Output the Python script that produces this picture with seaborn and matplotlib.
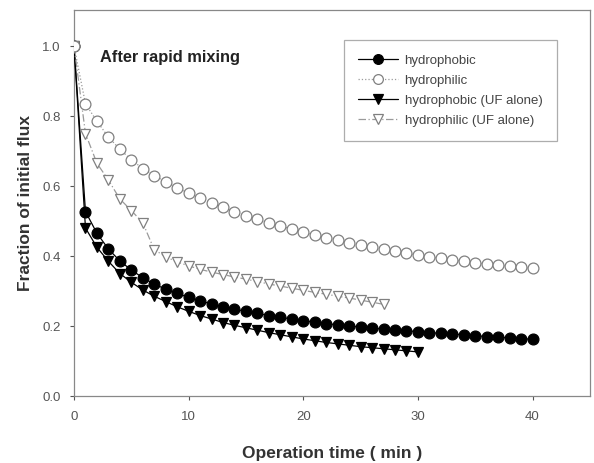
import numpy as np
import pandas as pd
import matplotlib
matplotlib.use("Agg")
import matplotlib.pyplot as plt
import seaborn as sns

sns.set_style("ticks")
plt.rcParams['font.family'] = ['Liberation Sans', 'DejaVu Sans']

t_hydrophobic = list(range(0, 41))
hydrophobic = [1.0, 0.527, 0.465, 0.42, 0.386, 0.36, 0.338, 0.32, 0.305, 0.293, 0.282,
               0.272, 0.263, 0.255, 0.248, 0.242, 0.236, 0.23, 0.225, 0.22, 0.215,
               0.211, 0.207, 0.203, 0.2, 0.197, 0.194, 0.191, 0.188, 0.186, 0.184,
               0.181, 0.179, 0.177, 0.175, 0.172, 0.17, 0.168, 0.166, 0.164, 0.162]

t_hydrophilic = list(range(0, 41))
hydrophilic = [1.0, 0.835, 0.785, 0.74, 0.705, 0.675, 0.65, 0.63, 0.612, 0.595, 0.58,
               0.565, 0.552, 0.54, 0.527, 0.515, 0.505, 0.495, 0.486, 0.477, 0.468,
               0.46, 0.452, 0.445, 0.438, 0.432, 0.426, 0.42, 0.414, 0.408, 0.403,
               0.398, 0.393, 0.389, 0.385, 0.381, 0.377, 0.374, 0.371, 0.368, 0.365]

t_hydrophobic_uf = list(range(0, 31))
hydrophobic_uf = [1.0, 0.48, 0.425, 0.385, 0.35, 0.325, 0.303, 0.285, 0.27, 0.255, 0.242,
                  0.23, 0.22, 0.21, 0.202, 0.195, 0.188, 0.181, 0.175, 0.169, 0.163,
                  0.158, 0.153, 0.149, 0.145, 0.141, 0.138, 0.135, 0.132, 0.129, 0.126]

t_hydrophilic_uf = list(range(0, 28))
hydrophilic_uf = [1.0, 0.75, 0.665, 0.617, 0.563, 0.53, 0.495, 0.418, 0.398, 0.383, 0.372,
                  0.362, 0.354, 0.347, 0.34, 0.334, 0.327, 0.32, 0.314, 0.308, 0.302,
                  0.296, 0.291, 0.285, 0.28, 0.274, 0.268, 0.262]

labels = ["hydrophobic", "hydrophilic", "hydrophobic (UF alone)", "hydrophilic (UF alone)"]
x_ticks = [0, 10, 20, 30, 40]
y_ticks = [0.0, 0.2, 0.4, 0.6, 0.8, 1.0]

series = [
    (t_hydrophobic, hydrophobic, dict(color="black", linestyle="-", marker="o", mfc="black", mec="black", z=3)),
    (t_hydrophilic, hydrophilic, dict(color="#9a9a9a", linestyle=":", marker="o", mfc="white", mec="#808080", z=6)),
    (t_hydrophobic_uf, hydrophobic_uf, dict(color="black", linestyle="-", marker="v", mfc="black", mec="black", z=4)),
    (t_hydrophilic_uf, hydrophilic_uf, dict(color="#9a9a9a", linestyle=(0, (6, 2, 1, 2)), marker="v", mfc="white", mec="#808080", z=5)),
]

fig = plt.figure(figsize=(5.94, 4.63), dpi=100)
ax = fig.add_axes([0.1246, 0.1447, 0.8684, 0.8337])

for (tx, ty, st), lab in zip(series, labels):
    df = pd.DataFrame({"t": tx, "y": ty})
    sns.lineplot(data=df, x="t", y="y", ax=ax, label=lab, linewidth=0.9,
                 color=st["color"], linestyle=st["linestyle"], marker=st["marker"],
                 markersize=7.8, markerfacecolor=st["mfc"], markeredgecolor=st["mec"],
                 markeredgewidth=0.9, zorder=st["z"])

ax.set_xlim(0, 45)
ax.set_ylim(0, 1.103)
ax.set_xticks(x_ticks)
ax.set_xticklabels([str(v) for v in x_ticks])
ax.set_yticks(y_ticks)
ax.set_yticklabels([f"{v:.1f}" for v in y_ticks])
ax.tick_params(axis="both", labelsize=9.5, colors="#555555", length=3, width=0.8, direction="out")
ax.tick_params(axis="x", pad=8)
ax.tick_params(axis="y", pad=6.5)
for s in ax.spines.values():
    s.set_color("#888888")
    s.set_linewidth(0.9)

ax.set_xlabel("Operation time ( min )", fontsize=12.5, fontweight="bold", color="#333333", labelpad=16)
ax.set_ylabel("Fraction of initial flux", fontsize=12.5, fontweight="bold", color="#333333", labelpad=7)

ax.text(2.25, 0.966, "After rapid mixing", fontsize=11.8, fontweight="bold", color="#222222",
        va="center", ha="left")

leg = ax.legend(loc="upper right", bbox_to_anchor=(0.936, 0.922), borderaxespad=0,
                fontsize=9.5, frameon=True, fancybox=False, edgecolor="#999999",
                handlelength=3.0, borderpad=1.1, labelspacing=0.58, handletextpad=0.5,
                markerscale=0.9)
leg.get_frame().set_linewidth(0.9)
for txt in leg.get_texts():
    txt.set_color("#444444")

fig.savefig("out.png", dpi=100)
